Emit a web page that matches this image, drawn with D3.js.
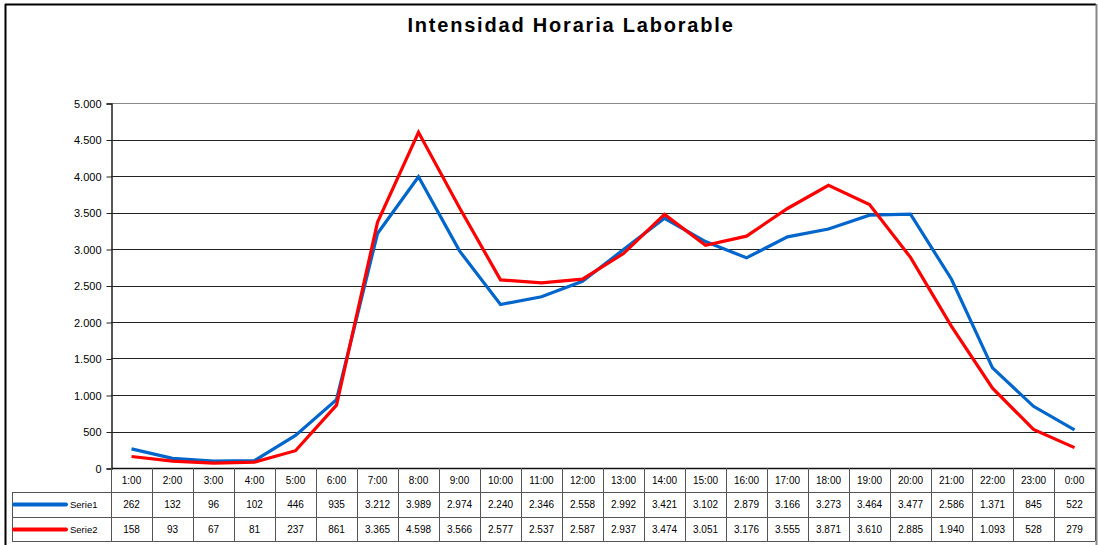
<!DOCTYPE html>
<html>
<head>
<meta charset="utf-8">
<script src="https://cdn.jsdelivr.net/npm/d3@7"></script>
<style>
body { margin: 0; background: #fff; }
svg { font-family: "Liberation Sans", Arial, sans-serif; }
</style>
</head>
<body>
<div id="chart"></div>
<script>
var w = 1098;
var h = 545;

// data
var hours = ["1:00","2:00","3:00","4:00","5:00","6:00","7:00","8:00","9:00","10:00","11:00","12:00",
             "13:00","14:00","15:00","16:00","17:00","18:00","19:00","20:00","21:00","22:00","23:00","0:00"];
var serie1 = [262,132,96,102,446,935,3212,3989,2974,2240,2346,2558,2992,3421,3102,2879,3166,3273,3464,3477,2586,1371,845,522];
var serie2 = [158,93,67,81,237,861,3365,4598,3566,2577,2537,2587,2937,3474,3051,3176,3555,3871,3610,2885,1940,1093,528,279];
var seriesNames = ["Serie1", "Serie2"];
var seriesColors = ["#0066cc", "#ff0000"];
var yTicks = [0,500,1000,1500,2000,2500,3000,3500,4000,4500,5000];

var plotLeft = 111, plotRight = 1095, plotTop = 103, plotBottom = 468;
var rowH = [24, 25, 24]; // header row, serie1 row, serie2 row
var legendLeft = 12;

var svg = d3.select("#chart").append("svg")
    .attr("width", w)
    .attr("height", h);

// outer frame
svg.append("line").attr("x1", 5).attr("x2", 1096).attr("y1", 4.5).attr("y2", 4.5)
    .attr("stroke", "#000").attr("stroke-width", 2);
svg.append("line").attr("x1", 5.5).attr("x2", 5.5).attr("y1", 4).attr("y2", h)
    .attr("stroke", "#000").attr("stroke-width", 2);
svg.append("line").attr("x1", 1096.5).attr("x2", 1096.5).attr("y1", 4).attr("y2", h)
    .attr("stroke", "#888").attr("stroke-width", 2);

// title
svg.append("text")
    .attr("x", 571).attr("y", 32)
    .attr("text-anchor", "middle")
    .style("font-size", "20px")
    .style("font-weight", "bold")
    .style("letter-spacing", "1.8px")
    .text("Intensidad Horaria Laborable");

var xScale = d3.scaleBand().domain(hours).range([plotLeft, plotRight]);
var yScale = d3.scaleLinear().domain([0, 5000]).range([plotBottom, plotTop]);

// gridlines
svg.append("g").selectAll("line")
    .data(yTicks.filter(function(d) { return d > 0; }))
    .enter().append("line")
    .attr("x1", plotLeft).attr("x2", plotRight)
    .attr("y1", function(d) { return Math.round(yScale(d)) + 0.5; })
    .attr("y2", function(d) { return Math.round(yScale(d)) + 0.5; })
    .attr("stroke", function(d) { return d === 5000 ? "#888" : "#222"; })
    .attr("stroke-width", 1);

// right border of plot area
svg.append("line")
    .attr("x1", plotRight + 0.5).attr("x2", plotRight + 0.5)
    .attr("y1", plotTop).attr("y2", plotBottom)
    .attr("stroke", "#888");

// y axis
var yAxis = svg.append("g")
    .attr("transform", "translate(" + (plotLeft + 0.5) + ",0.5)")
    .call(d3.axisLeft(yScale).tickValues(yTicks).tickSize(5).tickPadding(5)
        .tickFormat(function(d) { return d3.format(",")(d).replace(/,/g, "."); }));
yAxis.select(".domain").attr("stroke", "#222").attr("stroke-width", 1.5);
yAxis.selectAll(".tick line").attr("stroke", "#222");
yAxis.selectAll("text").style("font-size", "11px").style("font-family", "Liberation Sans, Arial, sans-serif").attr("fill", "#000");

// lines
var line = d3.line()
    .x(function(d, i) { return xScale(hours[i]) + xScale.bandwidth() / 2; })
    .y(function(d) { return yScale(d); });

[serie1, serie2].forEach(function(s, k) {
    svg.append("path")
        .datum(s)
        .attr("fill", "none")
        .attr("stroke", seriesColors[k])
        .attr("stroke-width", 3.2)
        .attr("stroke-linejoin", "miter")
        .attr("d", line);
});

// data table
var tbl = svg.append("g");
var y0 = plotBottom, y1 = y0 + rowH[0], y2 = y1 + rowH[1], y3 = y2 + rowH[2];

// horizontal table lines
tbl.append("line").attr("x1", plotLeft).attr("x2", plotRight).attr("y1", y0 + 0.5).attr("y2", y0 + 0.5)
    .attr("stroke", "#111").attr("stroke-width", 1.5);
[y1, y2, y3].forEach(function(yy) {
    tbl.append("line").attr("x1", legendLeft).attr("x2", plotRight)
        .attr("y1", yy + 0.5).attr("y2", yy + 0.5)
        .attr("stroke", "#555");
});
// vertical table lines
tbl.append("line").attr("x1", legendLeft + 0.5).attr("x2", legendLeft + 0.5)
    .attr("y1", y1).attr("y2", y3).attr("stroke", "#555");
tbl.selectAll(".vline")
    .data(hours)
    .enter().append("line")
    .attr("x1", function(d) { return Math.round(xScale(d)) + 0.5; })
    .attr("x2", function(d) { return Math.round(xScale(d)) + 0.5; })
    .attr("y1", y0).attr("y2", y3)
    .attr("stroke", "#555");
tbl.append("line").attr("x1", plotRight + 0.5).attr("x2", plotRight + 0.5)
    .attr("y1", y0).attr("y2", y3).attr("stroke", "#555");

// header row (hour labels)
tbl.selectAll(".hour")
    .data(hours)
    .enter().append("text")
    .attr("x", function(d) { return xScale(d) + xScale.bandwidth() / 2; })
    .attr("y", y0 + 16)
    .attr("text-anchor", "middle")
    .style("font-size", "10px")
    .text(function(d) { return d; });

var fmt = function(v) { return d3.format(",")(v).replace(/,/g, "."); };
var rowsY = [y1, y2];
[serie1, serie2].forEach(function(s, k) {
    var ry = rowsY[k];
    tbl.selectAll(".val" + k)
        .data(s)
        .enter().append("text")
        .attr("x", function(d, i) { return xScale(hours[i]) + xScale.bandwidth() / 2; })
        .attr("y", ry + 16)
        .attr("text-anchor", "middle")
        .style("font-size", "10px")
        .text(fmt);
    // legend key
    tbl.append("line")
        .attr("x1", legendLeft + 2).attr("x2", legendLeft + 54)
        .attr("y1", ry + 12.5).attr("y2", ry + 12.5)
        .attr("stroke", seriesColors[k])
        .attr("stroke-width", 4)
        .attr("stroke-linecap", "round");
    tbl.append("text")
        .attr("x", legendLeft + 58)
        .attr("y", ry + 16)
        .style("font-size", "9.5px")
        .text(seriesNames[k]);
});
</script>
</body>
</html>
